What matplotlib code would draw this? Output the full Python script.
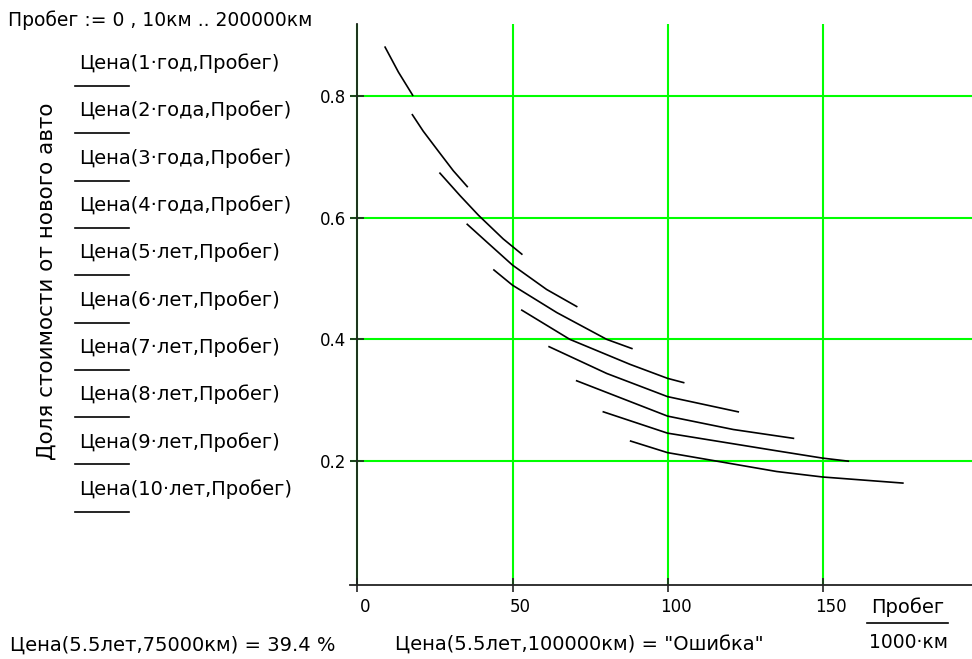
import matplotlib
matplotlib.use('Agg')
import matplotlib.pyplot as plt
from matplotlib.lines import Line2D
from matplotlib.transforms import ScaledTranslation

plt.rcParams['font.family'] = ['DejaVu Sans']

W, H = 972, 659  # output size in px (dpi 100)

# legend expressions, one per car age
AGES = ['1·год', '2·года', '3·года', '4·года', '5·лет',
        '6·лет', '7·лет', '8·лет', '9·лет', '10·лет']

# mileage (thousand km) and share of the new-car price
MILEAGE = [
    [8.9, 13.2, 17.8],
    [17.7, 21.2, 26.1, 30.9, 35.4],
    [26.6, 33.1, 39.0, 47.0, 53.0],
    [35.4, 41.7, 50.0, 61.0, 70.7],
    [44.0, 50.0, 64.3, 80.4, 88.5],
    [53.0, 68.5, 87.9, 100.0, 105.2],
    [61.8, 80.4, 100.0, 122.8],
    [70.7, 100.0, 121.2, 140.6],
    [79.3, 100.0, 135.2, 150.0, 158.3],
    [88.1, 100.0, 135.2, 150.0, 175.9],
]
SHARE = [
    [0.880, 0.839, 0.801],
    [0.769, 0.742, 0.709, 0.677, 0.651],
    [0.673, 0.636, 0.604, 0.565, 0.540],
    [0.589, 0.560, 0.522, 0.482, 0.454],
    [0.514, 0.489, 0.444, 0.400, 0.385],
    [0.448, 0.400, 0.359, 0.336, 0.329],
    [0.388, 0.344, 0.306, 0.281],
    [0.332, 0.274, 0.252, 0.2375],
    [0.281, 0.246, 0.217, 0.205, 0.200],
    [0.233, 0.214, 0.183, 0.174, 0.164],
]

X_TICKS = [0, 50, 100, 150]
Y_TICKS = [0.2, 0.4, 0.6, 0.8]

RANGE_TEXT = 'Пробег := 0 , 10км .. 200000км'
YLABEL = 'Доля стоимости от нового авто'
RESULT_OK = 'Цена(5.5лет,75000км) = 39.4 %'
RESULT_ERR = 'Цена(5.5лет,100000км) = "Ошибка"'


def fx(px):
    return px / W


def fy(py):
    return 1 - py / H


fig = plt.figure(figsize=(W / 100, H / 100), dpi=100)
ax = fig.add_axes([fx(350.2), fy(585), (W - 350.2) / W, (585 - 24) / H])
ax.set_xlim(-2.35, 198.2)
ax.set_ylim(-0.0034, 0.918)

for s in ['top', 'right']:
    ax.spines[s].set_visible(False)
ax.spines['left'].set_position(('data', 0))
for s in ['left', 'bottom']:
    ax.spines[s].set_color('#222222')
    ax.spines[s].set_linewidth(1.3)

ax.set_xticks(X_TICKS)
ax.set_yticks(Y_TICKS)
ax.set_yticklabels([f'{v:.1f}' for v in Y_TICKS])
ax.tick_params(direction='inout', length=10, width=1.2, colors='#222222',
               labelsize=12, labelcolor='black')
ax.tick_params(axis='y', pad=3)
ax.tick_params(axis='x', pad=4)
for lab in ax.get_xticklabels():
    lab.set_transform(lab.get_transform() + ScaledTranslation(8 / 100, 0, fig.dpi_scale_trans))

ax.grid(True, color='#00ff00', linewidth=1.5)
ax.set_axisbelow(True)

for xs, ys in zip(MILEAGE, SHARE):
    ax.plot(xs, ys, color='black', linewidth=1.2, zorder=3)

# Mathcad-style legend: expression with a trace sample under it
for i, age in enumerate(AGES):
    y_txt = 63.3 + 47.3 * i
    fig.text(fx(79), fy(y_txt), f'Цена({age},Пробег)', fontsize=14,
             ha='left', va='center')
    y_ln = 86 + 47.3 * i
    fig.add_artist(Line2D([fx(75), fx(129)], [fy(y_ln), fy(y_ln)],
                          color='black', linewidth=1.2))

fig.text(fx(47), fy(281), YLABEL, rotation=90, fontsize=15.5,
         ha='center', va='center')
fig.text(fx(8), fy(20), RANGE_TEXT, fontsize=13.5, ha='left', va='center')
fig.text(fx(10), fy(645), RESULT_OK, fontsize=14, ha='left', va='center')
fig.text(fx(395), fy(645), RESULT_ERR, fontsize=14, ha='left', va='center')

# x axis label as a fraction
fig.text(fx(908), fy(607), 'Пробег', fontsize=14, ha='center', va='center')
fig.add_artist(Line2D([fx(867), fx(948)], [fy(623), fy(623)],
                      color='black', linewidth=1.2))
fig.text(fx(908), fy(643), '1000·км', fontsize=13.5, ha='center', va='center')

fig.savefig('out.png', dpi=100)
